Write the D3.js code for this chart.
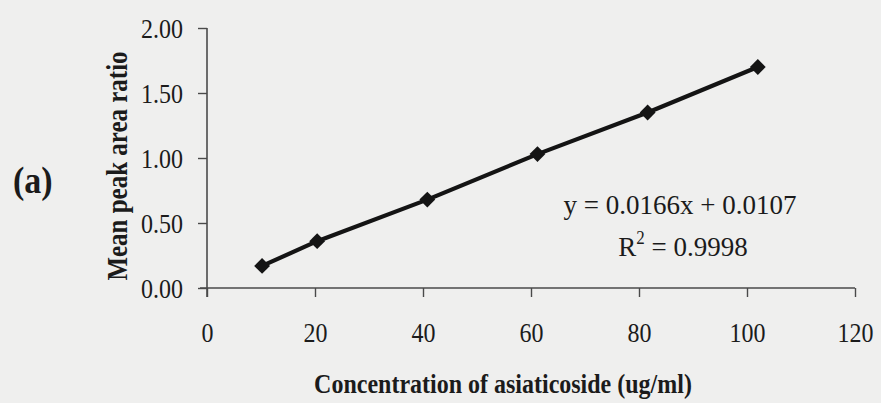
<!DOCTYPE html>
<html>
<head>
<meta charset="utf-8">
<script src="https://cdn.jsdelivr.net/npm/d3@7"></script>
<style>
html,body{margin:0;padding:0;background:#efefee;}
svg{display:block;}
text{font-family:"Liberation Serif","Times New Roman",serif;fill:#1b1b1b;}
</style>
</head>
<body>
<script>
const concentrations = [10.2, 20.4, 40.8, 61.2, 81.6, 102];
const peakRatios = [0.17, 0.36, 0.68, 1.03, 1.35, 1.70];
const xTicks = [0, 20, 40, 60, 80, 100, 120];
const yTicks = [0, 0.5, 1.0, 1.5, 2.0];
const equationText = "y = 0.0166x + 0.0107";
const r2Value = "0.9998";
const panelLabel = "(a)";
const xTitle = "Concentration of asiaticoside (ug/ml)";
const yTitle = "Mean peak area ratio";

const W = 881, H = 403;
const STRETCH = 1.18;
const svg = d3.select("body").append("svg").attr("width", W).attr("height", H);
svg.append("rect").attr("width", W).attr("height", H).attr("fill", "#efefee");

const x = d3.scaleLinear().domain([0, 120]).range([207, 855]);
const y = d3.scaleLinear().domain([0, 2]).range([288, 28]);

const axisColor = "#4a4a4a";

// X axis
const gx = svg.append("g").attr("transform", `translate(0,${y(0)})`)
  .call(d3.axisBottom(x).tickValues(xTicks).tickSize(9).tickPadding(28).tickFormat(d3.format("d")));
gx.select(".domain").attr("stroke", axisColor).attr("stroke-width", 1.6).attr("d", `M${x(0)-7},0H${x(120)}`);
gx.selectAll(".tick line").attr("stroke", axisColor).attr("stroke-width", 1.4);
gx.selectAll(".tick text").attr("font-size", 24).attr("font-family", "Liberation Serif").attr("fill", "#1b1b1b")
  .attr("y", 0).attr("dy", 0).attr("transform", `translate(0,54) scale(1,${STRETCH})`);

// Y axis
const gy = svg.append("g").attr("transform", `translate(${x(0)},0)`)
  .call(d3.axisLeft(y).tickValues(yTicks).tickSize(9).tickPadding(15).tickFormat(d3.format(".2f")));
gy.select(".domain").attr("stroke", axisColor).attr("stroke-width", 1.6).attr("d", `M0,${y(2)}V${y(0)+9}`);
gy.selectAll(".tick line").attr("stroke", axisColor).attr("stroke-width", 1.4);
gy.selectAll(".tick text").attr("font-size", 24).attr("font-family", "Liberation Serif").attr("fill", "#1b1b1b")
  .attr("x", 0).attr("dy", 0).attr("transform", `translate(-24,9.5) scale(1,${STRETCH})`);

// Data line
const pts = concentrations.map((c, i) => [c, peakRatios[i]]);
svg.append("path").datum(pts)
  .attr("fill", "none").attr("stroke", "#141414").attr("stroke-width", 4.2).attr("stroke-linejoin", "round")
  .attr("d", d3.line().x(d => x(d[0])).y(d => y(d[1])));

svg.selectAll(".mk").data(pts).enter().append("path")
  .attr("class", "mk")
  .attr("d", d3.symbol(d3.symbolSquare, 125))
  .attr("fill", "#141414")
  .attr("transform", d => `translate(${x(d[0])},${y(d[1])}) rotate(45)`);

// Equation
svg.append("text").attr("transform", `translate(680,214) scale(1,1.05)`).attr("text-anchor", "middle")
  .attr("font-size", 27).text(equationText);
const r2 = svg.append("text").attr("transform", `translate(683,256) scale(1,1.05)`).attr("text-anchor", "middle").attr("font-size", 27);
r2.append("tspan").text("R");
r2.append("tspan").attr("font-size", 17).attr("dy", -11).text("2");
r2.append("tspan").attr("dy", 11).text(" = " + r2Value);

// Axis titles
svg.append("text").attr("transform", `translate(503,393) scale(1,${STRETCH})`).attr("text-anchor", "middle")
  .attr("font-size", 24).attr("font-weight", "bold").text(xTitle);
svg.append("text").attr("transform", `translate(127,166) rotate(-90) scale(1,${STRETCH})`).attr("text-anchor", "middle")
  .attr("font-size", 25).attr("font-weight", "bold").text(yTitle);

// Panel label
svg.append("text").attr("transform", `translate(13,193) scale(1,1.12)`).attr("font-size", 34).attr("font-weight", "bold").text(panelLabel);
</script>
</body>
</html>
